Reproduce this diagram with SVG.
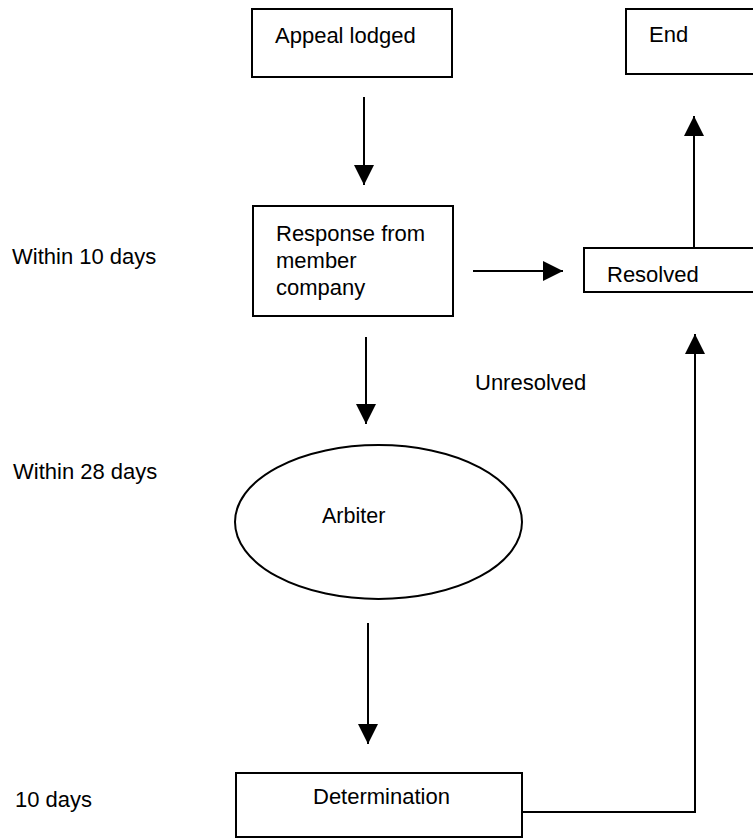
<svg xmlns="http://www.w3.org/2000/svg" width="753" height="838" viewBox="0 0 753 838">
<style>
.box{fill:#fff;stroke:#000;stroke-width:2}
.ln{fill:none;stroke:#000;stroke-width:2}
text{font-family:"Liberation Sans",Arial,sans-serif;font-size:22px;fill:#000}
</style>
<defs>
<marker id="ah" viewBox="0 0 20 20" refX="20" refY="10" markerWidth="20" markerHeight="20" markerUnits="userSpaceOnUse" orient="auto">
<path d="M0,0 L20,10 L0,20 z" fill="#000"/>
</marker>
</defs>
<rect width="753" height="838" fill="#fff"/>
<g id="labels">
<text x="12" y="264">Within 10 days</text>
<text x="13" y="479">Within 28 days</text>
<text x="15" y="807">10 days</text>
<text x="475" y="390">Unresolved</text>
</g>
<g id="appeal">
<rect class="box" x="252" y="9" width="200" height="68"/>
<text x="275" y="43">Appeal lodged</text>
</g>
<g id="end">
<rect class="box" x="626" y="9" width="140" height="65"/>
<text x="649" y="42">End</text>
</g>
<g id="response">
<rect class="box" x="253" y="206" width="200" height="110"/>
<text x="276" y="241">Response from</text>
<text x="276" y="268">member</text>
<text x="276" y="295">company</text>
</g>
<g id="resolved">
<rect class="box" x="584" y="248" width="180" height="44"/>
<text x="607" y="282">Resolved</text>
</g>
<g id="arbiter">
<ellipse class="box" cx="378.5" cy="522" rx="143.5" ry="77"/>
<text x="322" y="523" style="font-size:21.5px">Arbiter</text>
</g>
<g id="determination">
<rect class="box" x="236" y="773" width="286" height="64"/>
<text x="313" y="804">Determination</text>
</g>
<g id="connectors">
<line class="ln" x1="364" y1="97" x2="364" y2="185" marker-end="url(#ah)"/>
<line class="ln" x1="473" y1="271" x2="563" y2="271" marker-end="url(#ah)"/>
<line class="ln" x1="694" y1="248" x2="694" y2="116" marker-end="url(#ah)"/>
<line class="ln" x1="366" y1="337" x2="366" y2="424" marker-end="url(#ah)"/>
<line class="ln" x1="368" y1="623" x2="368" y2="744" marker-end="url(#ah)"/>
<polyline class="ln" points="522,812 695,812 695,334" marker-end="url(#ah)"/>
</g>
</svg>
